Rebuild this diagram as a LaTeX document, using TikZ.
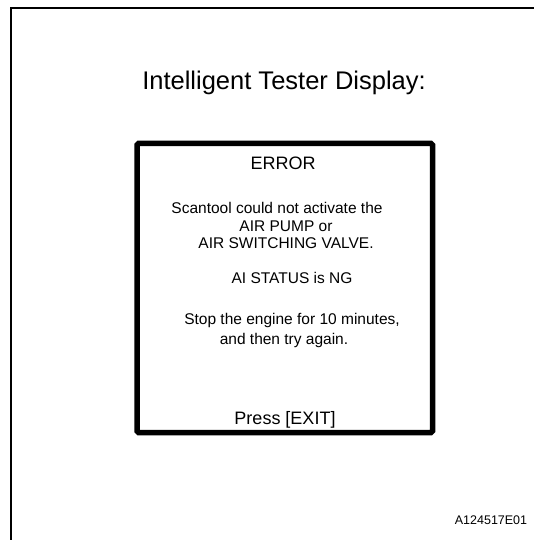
\documentclass[tikz,border=0pt]{standalone}
\usepackage{fontspec}
\setmainfont{Liberation Sans}
\begin{document}
\begin{tikzpicture}[x=1pt,y=-1pt,
    frame/.style={line width=2pt},
    screen/.style={line width=5.5pt, rounded corners=1.5pt},
    line/.style={inner sep=0pt, anchor=base, font=\fontsize{15.5}{18}\selectfont},
    head/.style={inner sep=0pt, anchor=base, font=\fontsize{18}{21}\selectfont}]
    \useasboundingbox (0,0) rectangle (534,540);

    % sheet border, only top and left show
    \draw[frame] (11,540) -- (11,8) -- (534,8);

    \node[inner sep=0pt, anchor=base, font=\fontsize{25.5}{30}\selectfont] (title) at (284,90) {Intelligent Tester Display:};

    % tester screen
    \draw[screen] (137,143.5) rectangle (432.5,432.5);
    \node[head] (error) at (283,169) {ERROR};
    \node[line] (msg1) at (277,213) {Scantool could not activate the};
    \node[line] (msg2) at (286,231) {AIR PUMP or};
    \node[line] (msg3) at (286,248) {AIR SWITCHING VALVE.};
    \node[line] (status) at (292,283) {AI STATUS is NG};
    \node[line] (stop1) at (292,324) {Stop the engine for 10 minutes,};
    \node[line] (stop2) at (284,344) {and then try again.};
    \node[head] (exit) at (285,424) {Press [EXIT]};

    \node[inner sep=0pt, anchor=base, font=\fontsize{12.5}{15}\selectfont] (code) at (491,524) {A124517E01};
\end{tikzpicture}
\end{document}
